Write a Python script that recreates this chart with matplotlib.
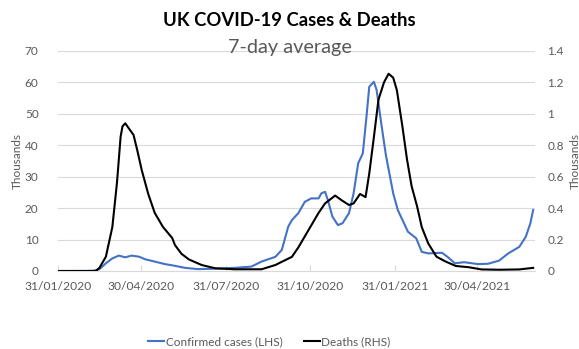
import matplotlib
matplotlib.use("Agg")
import matplotlib.pyplot as plt
from matplotlib.ticker import FuncFormatter
import pandas as pd

plt.rcParams['font.family'] = ['Lato', 'DejaVu Sans']

# cases, 7-day average (thousands, left axis)
case_dates = ['2020-01-31', '2020-03-01', '2020-03-10', '2020-03-16', '2020-03-23', '2020-03-30',
              '2020-04-06', '2020-04-13', '2020-04-20', '2020-04-28', '2020-05-05', '2020-05-15',
              '2020-05-26', '2020-06-05', '2020-06-17', '2020-07-01', '2020-07-15', '2020-08-10',
              '2020-08-28', '2020-09-08', '2020-09-23', '2020-09-30', '2020-10-04', '2020-10-07',
              '2020-10-11', '2020-10-18', '2020-10-25', '2020-11-01', '2020-11-09', '2020-11-12',
              '2020-11-16', '2020-11-19', '2020-11-24', '2020-11-30', '2020-12-05', '2020-12-12',
              '2020-12-17', '2020-12-22', '2020-12-27', '2020-12-31', '2021-01-03', '2021-01-08',
              '2021-01-11', '2021-01-16', '2021-01-21', '2021-01-29', '2021-02-03', '2021-02-14',
              '2021-02-23', '2021-03-01', '2021-03-08', '2021-03-23', '2021-03-29', '2021-04-06',
              '2021-04-16', '2021-05-01', '2021-05-12', '2021-05-24', '2021-06-03', '2021-06-15',
              '2021-06-22', '2021-06-27', '2021-06-30']
cases = [0, 0.02, 0.1, 0.6, 2.45, 4.0,
         4.9, 4.35, 4.9, 4.55, 3.7, 3.0,
         2.2, 1.7, 1.0, 0.6, 0.7, 1.0,
         1.4, 3.0, 4.5, 6.7, 10.9, 14.1,
         16.2, 18.4, 22.0, 23.1, 23.1, 24.7,
         25.2, 22.6, 17.3, 14.6, 15.2, 18.4,
         24.7, 34.3, 37.4, 49.1, 58.6, 60.2,
         57.6, 47.0, 37.0, 24.7, 19.4, 12.5,
         10.4, 6.1, 5.6, 5.8, 4.5, 2.45,
         2.8, 2.2, 2.3, 3.3, 5.6, 7.7,
         10.9, 15.2, 19.4]

# deaths, 7-day average (thousands, right axis)
death_dates = ['2020-01-31', '2020-03-12', '2020-03-16', '2020-03-23', '2020-03-30', '2020-04-04',
               '2020-04-08', '2020-04-10', '2020-04-13', '2020-04-19', '2020-04-22', '2020-04-26',
               '2020-05-01', '2020-05-08', '2020-05-15', '2020-05-24', '2020-06-03', '2020-06-06',
               '2020-06-13', '2020-06-21', '2020-07-05', '2020-07-20', '2020-08-10', '2020-09-08',
               '2020-09-23', '2020-10-04', '2020-10-11', '2020-10-18', '2020-10-29', '2020-11-09',
               '2020-11-16', '2020-11-27', '2020-12-04', '2020-12-12', '2020-12-17', '2020-12-24',
               '2020-12-30', '2021-01-03', '2021-01-08', '2021-01-13', '2021-01-19', '2021-01-24',
               '2021-01-29', '2021-02-02', '2021-02-08', '2021-02-13', '2021-02-18', '2021-02-24',
               '2021-03-01', '2021-03-08', '2021-03-17', '2021-03-27', '2021-04-07', '2021-04-21',
               '2021-05-05', '2021-05-24', '2021-06-15', '2021-06-30']
deaths = [0, 0.0, 0.02, 0.091, 0.28, 0.56,
          0.855, 0.92, 0.94, 0.89, 0.866, 0.77,
          0.64, 0.49, 0.37, 0.28, 0.21, 0.165,
          0.11, 0.074, 0.038, 0.017, 0.011, 0.011,
          0.038, 0.07, 0.09, 0.15, 0.26, 0.37,
          0.43, 0.48, 0.45, 0.42, 0.43, 0.49,
          0.47, 0.62, 0.85, 1.09, 1.2, 1.255,
          1.23, 1.15, 0.92, 0.71, 0.54, 0.41,
          0.28, 0.176, 0.091, 0.06, 0.032, 0.024,
          0.01, 0.008, 0.01, 0.02]

tick_dates = ['2020-01-31', '2020-04-30', '2020-07-31', '2020-10-31', '2021-01-31', '2021-04-30']

grey = '#595959'
blue = '#4472C4'

fig = plt.figure(figsize=(5.79, 3.49), dpi=100)
ax = fig.add_axes([0.1002, 0.2235, 0.8238, 0.6305])
ax2 = ax.twinx()

ax.plot(pd.to_datetime(case_dates), cases, color=blue, lw=1.5, label='Confirmed cases (LHS)')
ax2.plot(pd.to_datetime(death_dates), deaths, color='black', lw=1.5, label='Deaths (RHS)')

ax.set_ylim(0, 70)
ax.set_yticks(range(0, 71, 10))
ax2.set_ylim(0, 1.4)
ax2.set_yticks([0, 0.2, 0.4, 0.6, 0.8, 1, 1.2, 1.4])
ax2.yaxis.set_major_formatter(FuncFormatter(lambda v, p: '%g' % round(v, 1)))

ticks = pd.to_datetime(tick_dates)
ax.set_xlim(pd.Timestamp('2020-01-31'), pd.Timestamp('2021-07-02'))
ax.set_xticks(ticks)
ax.set_xticklabels([t.strftime('%d/%m/%Y') for t in ticks])

ax.grid(axis='y', color='#D9D9D9', lw=0.8)
ax.set_axisbelow(True)
for a in (ax, ax2):
    for s in a.spines.values():
        s.set_visible(False)
ax.spines['bottom'].set_visible(True)
ax.spines['bottom'].set_color('#D9D9D9')

ax.tick_params(axis='x', colors='#D9D9D9', direction='in', length=4, labelcolor=grey,
               labelsize=8.7, pad=7)
ax.tick_params(axis='y', length=0, labelcolor=grey, labelsize=8.5, pad=14)
ax2.tick_params(axis='y', length=0, labelcolor=grey, labelsize=8.5, pad=9)

fig.text(17 / 579, 1 - 161 / 349, 'Thousands', rotation=90, color=grey, fontsize=8.5,
         ha='center', va='center')
fig.text(575 / 579, 1 - 161 / 349, 'Thousands', rotation=90, color=grey, fontsize=8.5,
         ha='center', va='center')

fig.text(0.5, 1 - 20 / 349, 'UK COVID-19 Cases & Deaths', fontsize=13.3, fontweight='bold',
         ha='center', va='center')
fig.text(0.5, 1 - 47 / 349, '7-day average', fontsize=14.3, color=grey, ha='center', va='center')

h1, l1 = ax.get_legend_handles_labels()
h2, l2 = ax2.get_legend_handles_labels()
fig.legend(h1 + h2, l1 + l2, loc='center', bbox_to_anchor=(0.465, 1 - 342 / 349), ncol=2,
           frameon=False, fontsize=8.5, handlelength=1.4, handletextpad=0.1, columnspacing=1.8,
           labelcolor=grey)

fig.savefig('out.png', dpi=100)
